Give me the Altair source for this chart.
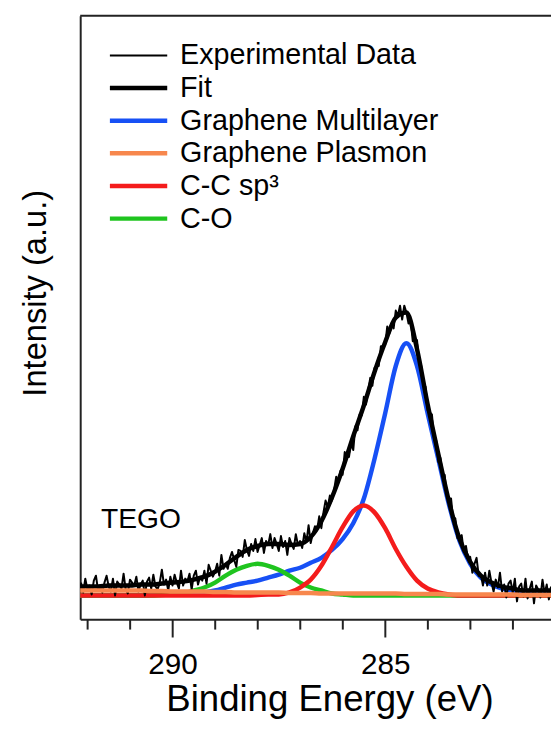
import altair as alt
import pandas as pd

# ---------------- data ----------------
series_names = ["Experimental Data", "Fit", "Graphene Multilayer",
                "Graphene Plasmon", "C-C sp³", "C-O"]
series_colors = ["#000000", "#000000", "#1750f5", "#f7874d", "#f41c1c", "#1fc41f"]

# component grid (binding energy, eV), 0.25 eV apart
grid_energy = [round(292.25 - 0.25 * i, 2) for i in range(46)]

multilayer = [0, 0, 0, 0, 0, 0, 0, 0.5, 1, 1, 1.5, 2, 3, 5, 8, 11, 13, 15, 18, 21,
              25, 28, 33, 38, 46, 57, 73, 98, 138, 184, 232, 255, 232, 184, 138,
              92, 55, 32, 18, 11, 7, 5, 4, 3, 2, 2]
plasmon = [5, 5, 5, 5, 5, 5, 5, 4.5, 4.5, 4, 4, 4, 4, 3.5, 3.5, 3, 3, 3, 3, 3,
           2.5, 2.5, 2.5, 2, 2, 2, 2, 2, 2, 2, 2, 1.5, 1.5, 1.5, 1.5, 1, 1, 1,
           1, 1, 1, 1, 0.5, 0.5, 0.5, 0.5]
sp3 = [0, 0, 0, 0, 0, 0, 0, 0, 0, 0, 0, 0, 0, 0, 0, 0, 0, 0.5, 1, 1, 3, 8, 16,
       30, 49, 69, 85, 91, 84, 68, 47, 29, 15, 7, 3, 1, 0, 0, 0, 0, 0, 0, 0, 0,
       0, 0]
c_o = [0, 0, 0, 0, 0, 0, 0, 0, 0.5, 1, 2, 5, 8, 13, 20, 26, 30, 32, 30, 26, 20,
       13, 8, 5, 2, 1, 0, 0, 0, 0, 0, 0, 0, 0, 0, 0, 0, 0, 0, 0, 0, 0, 0, 0, 0, 0]
fit = [9, 9, 9, 10, 10, 10, 11, 11, 12, 13, 14, 16, 19, 24, 31, 39, 46, 50, 52,
       52, 51, 52, 59, 75, 99, 128, 161, 192, 226, 256, 281, 286, 249, 193,
       143, 95, 57, 34, 20, 13, 9, 7, 5, 5, 5, 5]

# experimental spectrum, 0.05 eV steps from 292.15 eV
exp_counts = [
    13, 3, 17, 6, 10, 1, 15, 20, 5, 9,
    3, 13, 20, 9, 4, 17, 0, 14, 11, 7,
    22, 6, 2, 16, 13, 10, 19, 4, 11, 15,
    0, 14, 18, 7, 21, 9, 6, 13, 26, 11,
    16, 5, 19, 10, 21, 13, 7, 25, 10, 17,
    14, 22, 6, 20, 25, 11, 19, 15, 25, 12,
    31, 25, 19, 24, 32, 20, 41, 27, 32, 27,
    38, 44, 36, 29, 46, 45, 39, 56, 46, 40,
    52, 45, 57, 44, 51, 58, 43, 55, 51, 62,
    48, 58, 52, 45, 60, 49, 55, 41, 58, 52,
    47, 62, 51, 55, 48, 63, 54, 71, 53, 63,
    70, 66, 80, 68, 84, 96, 89, 101, 96, 107,
    120, 114, 126, 122, 145, 140, 140, 155, 147, 171,
    167, 183, 182, 201, 193, 207, 220, 212, 230, 232,
    232, 252, 252, 253, 272, 265, 275, 270, 288, 283,
    293, 279, 293, 286, 275, 277, 257, 259, 258, 236,
    232, 212, 211, 187, 185, 183, 159, 157, 135, 139,
    123, 122, 100, 98, 98, 77, 78, 58, 59, 61,
    44, 50, 37, 39, 23, 32, 38, 20, 21, 10,
    23, 10, 25, 13, 4, 16, 8, 23, 4, 11,
    -2, 12, 15, 3, 17, -6, 9, 12, -1, 17,
    -3, 7, 14, -8, 10, 6, -2, 16, 2, 11,
    -4, 9,
]
exp_energy = [round(292.15 - 0.05 * k, 2) for k in range(len(exp_counts))]

tick_values = [292, 291, 290, 289, 288, 287, 286, 285, 284, 283, 282]
sample_label = "TEGO"

# ---------------- tables ----------------
comp_rows = []
for name, vals in [("Graphene Multilayer", multilayer), ("Graphene Plasmon", plasmon),
                   ("C-C sp³", sp3), ("C-O", c_o), ("Fit", fit)]:
    for e, v in zip(grid_energy, vals):
        comp_rows.append({"E": e, "I": v, "series": name})
comp_df = pd.DataFrame(comp_rows)
exp_df = pd.DataFrame({"E": exp_energy, "I": exp_counts,
                       "series": ["Experimental Data"] * len(exp_counts)})

FONT = "Liberation Sans"
W, H = 476, 610

x_enc = alt.X("E:Q",
              scale=alt.Scale(domain=[292.17, 281.1], nice=False, zero=False),
              axis=alt.Axis(values=tick_values,
                            title="Binding Energy (eV)",
                            labelExpr="datum.value % 5 === 0 ? datum.label : ''",
                            tickSize={"condition": {"test": "datum.value % 5 === 0", "value": 18},
                                      "value": 10},
                            tickWidth=2, tickColor="#222222",
                            domainColor="#222222", domainWidth=2,
                            labelFontSize=30, labelFont=FONT, labelColor="#000000",
                            labelPadding=13,
                            titleFontSize=37, titleFont=FONT, titleFontWeight="normal",
                            titleColor="#000000", titleX=252, titleY=92,
                            titleAlign="center", titleBaseline="alphabetic",
                            grid=False))
y_enc = alt.Y("I:Q",
              scale=alt.Scale(domain=[-24, 586], nice=False, zero=False),
              axis=alt.Axis(title="Intensity (a.u.)", ticks=False, labels=False,
                            domainColor="#222222", domainWidth=2,
                            titleFontSize=33, titleFont=FONT, titleFontWeight="normal",
                            titleColor="#000000", titleX=-45, titleY=280,
                            titleAngle=270, titleAlign="center", titleBaseline="middle",
                            grid=False))

legend = alt.Legend(orient="none", legendX=44.5, legendY=25.5, title=None,
                    symbolType="M-4,0H4", symbolSize=210, labelOffset=27.5,
                    symbolStrokeWidth={"expr": "datum.value === 'Experimental Data' ? 2 : 4.5"},
                    rowPadding=3, padding=0, labelFontSize=29, labelFont=FONT,
                    labelColor="#000000", labelLimit=500)
color_enc = alt.Color("series:N",
                      scale=alt.Scale(domain=series_names, range=series_colors),
                      legend=legend)


def comp_layer(name, width=4.5, interp="monotone"):
    return (alt.Chart(comp_df)
            .transform_filter(alt.datum.series == name)
            .mark_line(interpolate=interp, clip=True, strokeCap="round",
                       strokeWidth=width)
            .encode(x=x_enc, y=y_enc, color=color_enc))


exp_layer = (alt.Chart(exp_df)
             .mark_line(clip=True, strokeJoin="round", strokeWidth=2)
             .encode(x=x_enc, y=y_enc, color=color_enc))

top_border = (alt.Chart(pd.DataFrame({"a": [0]}))
              .mark_rule(color="#222222", strokeWidth=2)
              .encode(x=alt.value(0), x2=alt.value(W), y=alt.value(0)))

label = (alt.Chart(pd.DataFrame({"t": [sample_label]}))
         .mark_text(align="left", baseline="alphabetic", fontSize=28.5, font=FONT,
                    color="#000000")
         .encode(x=alt.value(21), y=alt.value(518), text="t:N"))

chart = alt.layer(
    comp_layer("Graphene Multilayer"),
    comp_layer("C-O"),
    comp_layer("C-C sp³"),
    exp_layer,
    comp_layer("Fit"),
    comp_layer("Graphene Plasmon"),
    top_border,
    label,
).properties(
    width=W, height=H,
    autosize=alt.AutoSizeParams(type="none"),
    padding={"left": 73, "top": 4, "right": 0, "bottom": 99},
).configure_view(stroke=None)

chart.save("out.html", embed_options={"renderer": "svg", "actions": False})
